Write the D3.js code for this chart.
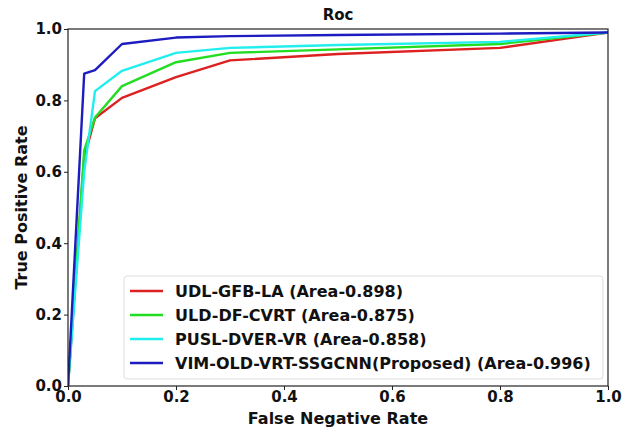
<!DOCTYPE html>
<html>
<head>
<meta charset="utf-8">
<script src="https://cdn.jsdelivr.net/npm/d3@7"></script>
<style>
  body { margin: 0; background: #fff; }
  text { font-family: "DejaVu Sans", sans-serif; font-weight: bold; }
</style>
</head>
<body>
<div id="container"></div>
<script>
// data
const fpr = [0, 0.03, 0.05, 0.1, 0.2, 0.3, 0.5, 0.8, 1.0];
const udl = [0, 0.64, 0.75, 0.807, 0.865, 0.912, 0.93, 0.947, 0.99];
const uld = [0, 0.66, 0.752, 0.84, 0.907, 0.933, 0.943, 0.958, 0.99];
const pusl = [0, 0.6, 0.826, 0.883, 0.933, 0.947, 0.955, 0.964, 0.99];
const vim = [0, 0.875, 0.885, 0.958, 0.976, 0.98, 0.983, 0.987, 0.99];

const seriesNames = [
  "UDL-GFB-LA (Area-0.898)",
  "ULD-DF-CVRT (Area-0.875)",
  "PUSL-DVER-VR (Area-0.858)",
  "VIM-OLD-VRT-SSGCNN(Proposed) (Area-0.996)"
];
const seriesValues = [udl, uld, pusl, vim];
const colors = ["#dd2020", "#22dd22", "#22eeee", "#1c1cc0"];
const ticks = [0, 0.2, 0.4, 0.6, 0.8, 1.0];

const width = 623, height = 430;
const margin = { top: 29, right: 15, bottom: 44, left: 68 };

const svg = d3.select("#container").append("svg")
  .attr("width", width)
  .attr("height", height);

const xScale = d3.scaleLinear().domain([0, 1]).range([margin.left, width - margin.right]);
const yScale = d3.scaleLinear().domain([0, 1]).range([height - margin.bottom, margin.top]);

const lineGen = d3.line()
  .x(d => xScale(d[0]))
  .y(d => yScale(d[1]));

svg.append("clipPath").attr("id", "clip")
  .append("rect")
  .attr("x", xScale(0)).attr("y", yScale(1) - 3)
  .attr("width", xScale(1) - xScale(0)).attr("height", yScale(0) - yScale(1) + 3);

svg.append("g").attr("clip-path", "url(#clip)")
  .selectAll("path.roc")
  .data(seriesValues)
  .join("path")
  .attr("class", "roc")
  .attr("fill", "none")
  .attr("stroke", (d, i) => colors[i])
  .attr("stroke-width", 2.4)
  .attr("stroke-linejoin", "round")
  .attr("d", vals => lineGen(fpr.map((x, j) => [x, vals[j]])));

// axes
const xAxis = d3.axisBottom(xScale).tickValues(ticks).tickFormat(d3.format(".1f")).tickSizeOuter(0).tickSize(4);
const yAxis = d3.axisLeft(yScale).tickValues(ticks).tickFormat(d3.format(".1f")).tickSizeOuter(0).tickSize(4);

const gx = svg.append("g")
  .attr("transform", `translate(0,${height - margin.bottom})`)
  .call(xAxis);
const gy = svg.append("g")
  .attr("transform", `translate(${margin.left},0)`)
  .call(yAxis);

[gx, gy].forEach(g => {
  g.select(".domain").remove();
  g.selectAll("line").attr("stroke", "#222").attr("stroke-width", 1);
  g.selectAll("text").attr("font-size", 15).attr("fill", "#111")
    .style("font-family", "DejaVu Sans").style("font-weight", "bold");
});
gx.selectAll("text").attr("y", 5).attr("dy", "0.71em");
gy.selectAll("text").attr("x", -6);

// frame
svg.append("rect")
  .attr("x", xScale(0)).attr("y", yScale(1))
  .attr("width", xScale(1) - xScale(0)).attr("height", yScale(0) - yScale(1))
  .attr("fill", "none").attr("stroke", "#222").attr("stroke-width", 1.2);

// labels
svg.append("text")
  .attr("x", (xScale(0) + xScale(1)) / 2).attr("y", 20)
  .attr("text-anchor", "middle").attr("font-size", 15).attr("fill", "#111")
  .text("Roc");
svg.append("text")
  .attr("x", (xScale(0) + xScale(1)) / 2).attr("y", 424)
  .attr("text-anchor", "middle").attr("font-size", 16).attr("fill", "#111")
  .text("False Negative Rate");
svg.append("text")
  .attr("transform", `translate(27,${(yScale(0) + yScale(1)) / 2}) rotate(-90)`)
  .attr("text-anchor", "middle").attr("font-size", 16).attr("fill", "#111")
  .text("True Positive Rate");

// legend
const legend = svg.append("g").attr("transform", "translate(124,276)");
legend.append("rect")
  .attr("width", 479).attr("height", 103).attr("rx", 3)
  .attr("fill", "#fff").attr("fill-opacity", 0.85)
  .attr("stroke", "#ddd").attr("stroke-width", 1);
const rows = legend.selectAll("g.row")
  .data(seriesNames)
  .join("g")
  .attr("class", "row")
  .attr("transform", (d, i) => `translate(0,${15 + i * 24})`);
rows.append("line")
  .attr("x1", 6).attr("x2", 39)
  .attr("stroke", (d, i) => colors[i]).attr("stroke-width", 2.4);
rows.append("text")
  .attr("x", 51).attr("dy", "0.35em")
  .attr("font-size", 16).attr("fill", "#111")
  .text(d => d);
</script>
</body>
</html>
